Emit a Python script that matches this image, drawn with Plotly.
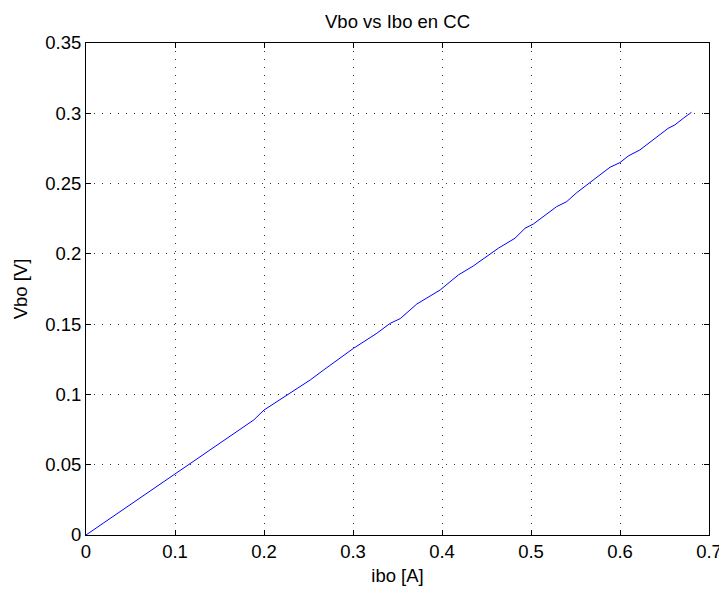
import plotly.graph_objects as go

ibo = [0.0, 0.1, 0.1884, 0.2, 0.252, 0.267, 0.3006, 0.3268, 0.3418, 0.353,
       0.3717, 0.3979, 0.4184, 0.4352, 0.4633, 0.482, 0.4933, 0.5026, 0.5288,
       0.54, 0.5513, 0.5887, 0.5999, 0.6092, 0.6223, 0.6541, 0.6616, 0.671, 0.6803]
vbo = [0.0, 0.0432, 0.0818, 0.0889, 0.1103, 0.1174, 0.1328, 0.1435, 0.1506, 0.1539,
       0.1643, 0.1743, 0.185, 0.1914, 0.204, 0.2111, 0.2182, 0.2212, 0.2336,
       0.2371, 0.2435, 0.2616, 0.2649, 0.2696, 0.2739, 0.2893, 0.2917, 0.2964, 0.3007]

x_ticks = [0, 0.1, 0.2, 0.3, 0.4, 0.5, 0.6, 0.7]
x_labels = ["0", "0.1", "0.2", "0.3", "0.4", "0.5", "0.6", "0.7"]
y_ticks = [0, 0.05, 0.1, 0.15, 0.2, 0.25, 0.3, 0.35]
y_labels = ["0", "0.05", "0.1", "0.15", "0.2", "0.25", "0.3", "0.35"]

fig = go.Figure(go.Scatter(x=ibo, y=vbo, mode="lines",
                           line=dict(color="#0000ff", width=1)))

font = "Liberation Sans, Arial, Helvetica, sans-serif"
fs = 18.5
axis_common = dict(
    showline=True, linecolor="black", linewidth=1, mirror="ticks",
    ticks="inside", ticklen=5, tickcolor="black", tickwidth=1,
    showgrid=True, gridcolor="#333333", gridwidth=1, griddash="1px,7px",
    zeroline=False, automargin=False,
    tickfont=dict(size=fs, color="black", family=font),
)

fig.update_xaxes(range=[0, 0.7], tickvals=x_ticks, ticktext=x_labels,
                 title=dict(text="ibo [A]", font=dict(size=fs, color="black", family=font), standoff=7),
                 **axis_common)
fig.update_yaxes(range=[0, 0.35], tickvals=y_ticks, ticktext=y_labels,
                 title=dict(text="Vbo [V]", font=dict(size=fs, color="black", family=font), standoff=12),
                 **axis_common)

# browser body margin of 8px shifts the figure; compensate
fig.update_layout(
    width=719, height=583,
    margin=dict(l=77.5, r=18, t=35, b=56),
    paper_bgcolor="white", plot_bgcolor="white",
    showlegend=False,
    title=dict(text="Vbo vs Ibo en CC", x=0.5, xanchor="center", xref="paper",
               y=1 - 13.7 / 583, yanchor="middle",
               font=dict(size=fs, color="black", family=font)),
)

fig.write_html("out.html")
